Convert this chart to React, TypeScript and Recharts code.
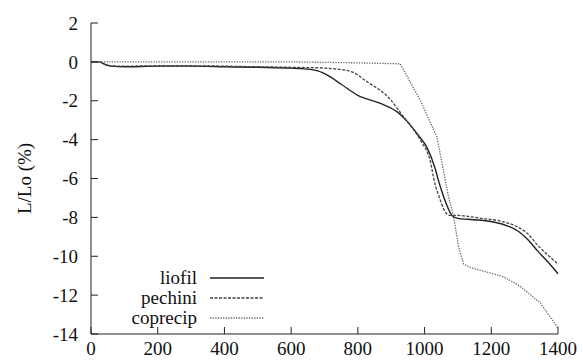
import { LineChart, Line, XAxis, YAxis, Legend } from 'recharts';

// dilatometry curves, temperature (°C) vs L/Lo (%)
const liofilT = [0, 25, 40, 60, 100, 200, 300, 400, 500, 600, 640, 680, 710, 750, 800, 870, 920, 950, 980, 1010, 1030, 1045, 1065, 1082, 1100, 1130, 1170, 1210, 1250, 1280, 1310, 1340, 1370, 1400];
const liofilV = [0, 0, -0.12, -0.22, -0.25, -0.22, -0.22, -0.25, -0.28, -0.32, -0.36, -0.46, -0.7, -1.15, -1.72, -2.15, -2.6, -3.1, -3.75, -4.5, -5.4, -6.3, -7.3, -7.9, -8.05, -8.1, -8.15, -8.25, -8.45, -8.7, -9.15, -9.75, -10.3, -10.9];

const pechiniT = [0, 25, 40, 60, 100, 200, 300, 400, 500, 600, 700, 750, 780, 830, 890, 940, 990, 1017, 1030, 1045, 1058, 1076, 1100, 1130, 1170, 1230, 1280, 1310, 1340, 1370, 1400];
const pechiniV = [0, 0, -0.12, -0.2, -0.22, -0.2, -0.2, -0.22, -0.25, -0.28, -0.32, -0.4, -0.5, -1.05, -1.8, -2.9, -4.1, -5.1, -6.2, -7.0, -7.6, -7.9, -7.9, -7.95, -8.05, -8.2, -8.5, -8.85, -9.45, -9.95, -10.4];

const coprecipT = [0, 200, 400, 600, 800, 927, 987, 1037, 1062, 1072, 1087, 1102, 1117, 1140, 1167, 1236, 1287, 1347, 1400];
const coprecipV = [0, 0, 0, 0, -0.05, -0.1, -1.97, -3.86, -6.08, -6.95, -7.97, -9.5, -10.4, -10.6, -10.72, -11.05, -11.55, -12.4, -13.7];

const xTicks = [0, 200, 400, 600, 800, 1000, 1200, 1400];
const yTicks = [2, 0, -2, -4, -6, -8, -10, -12, -14];

const toPoints = (t: number[], v: number[]) => t.map((x, i) => ({ t: x, v: v[i] }));

const series = [
  { name: 'liofil', data: toPoints(liofilT, liofilV), color: '#222', dash: undefined, width: 1.4, curve: 'monotone' },
  { name: 'pechini', data: toPoints(pechiniT, pechiniV), color: '#444', dash: '3 1.5', width: 1.3, curve: 'monotone' },
  { name: 'coprecip', data: toPoints(coprecipT, coprecipV), color: '#666', dash: '1.3 1.3', width: 1.3, curve: 'linear' },
];

const font = '"Times New Roman", "Liberation Serif", Times, serif';
const tickStyle = { fontFamily: font, fontSize: 19, fill: '#111' };

function LegendBox() {
  return (
    <svg width={180} height={66}>
      {series.map((s, i) => (
        <g key={s.name}>
          <text x={97} y={18 + i * 20} textAnchor="end" style={{ fontFamily: font, fontSize: 19, fill: '#111' }}>
            {s.name}
          </text>
          <line x1={110} x2={164} y1={12 + i * 20} y2={12 + i * 20} stroke={s.color} strokeWidth={s.width} strokeDasharray={s.dash} />
        </g>
      ))}
    </svg>
  );
}

export default function App() {
  return (
    <div style={{ position: 'absolute', left: 0, top: 0, background: '#fff', fontFamily: font }}>
      <LineChart width={583} height={360} margin={{ top: 23, right: 25, left: 0, bottom: 0 }} style={{ fontFamily: font }}>
        <XAxis
          xAxisId="b"
          dataKey="t"
          type="number"
          domain={[0, 1400]}
          ticks={xTicks}
          height={26}
          tickSize={-7}
          tickMargin={15}
          tick={tickStyle}
          stroke="#222"
          allowDuplicatedCategory={false}
        />
        <XAxis
          xAxisId="t"
          orientation="top"
          dataKey="t"
          type="number"
          domain={[0, 1400]}
          ticks={xTicks}
          height={0}
          tickSize={-7}
          tickFormatter={() => ''}
          stroke="#222"
          allowDuplicatedCategory={false}
        />
        <YAxis
          yAxisId="l"
          type="number"
          domain={[-14, 2]}
          ticks={yTicks}
          width={91}
          tickSize={-7}
          tickMargin={20}
          tick={tickStyle}
          stroke="#222"
          label={{
            value: 'L/Lo (%)',
            angle: -90,
            position: 'insideLeft',
            offset: 24,
            style: { textAnchor: 'middle', fontFamily: font, fontSize: 19, fill: '#111' },
          }}
        />
        <YAxis
          yAxisId="r"
          orientation="right"
          type="number"
          domain={[-14, 2]}
          ticks={yTicks}
          width={0}
          tickSize={-7}
          tickFormatter={() => ''}
          stroke="#222"
        />
        <Legend
          layout="vertical"
          align="center"
          verticalAlign="middle"
          wrapperStyle={{ left: 100, top: 266, width: 180 }}
          content={() => <LegendBox />}
        />
        {series.map((s) => (
          <Line
            key={s.name}
            xAxisId="b"
            yAxisId="l"
            data={s.data}
            dataKey="v"
            name={s.name}
            type={s.curve as 'monotone' | 'linear'}
            stroke={s.color}
            strokeWidth={s.width}
            strokeDasharray={s.dash}
            dot={false}
            isAnimationActive={false}
          />
        ))}
      </LineChart>
    </div>
  );
}
